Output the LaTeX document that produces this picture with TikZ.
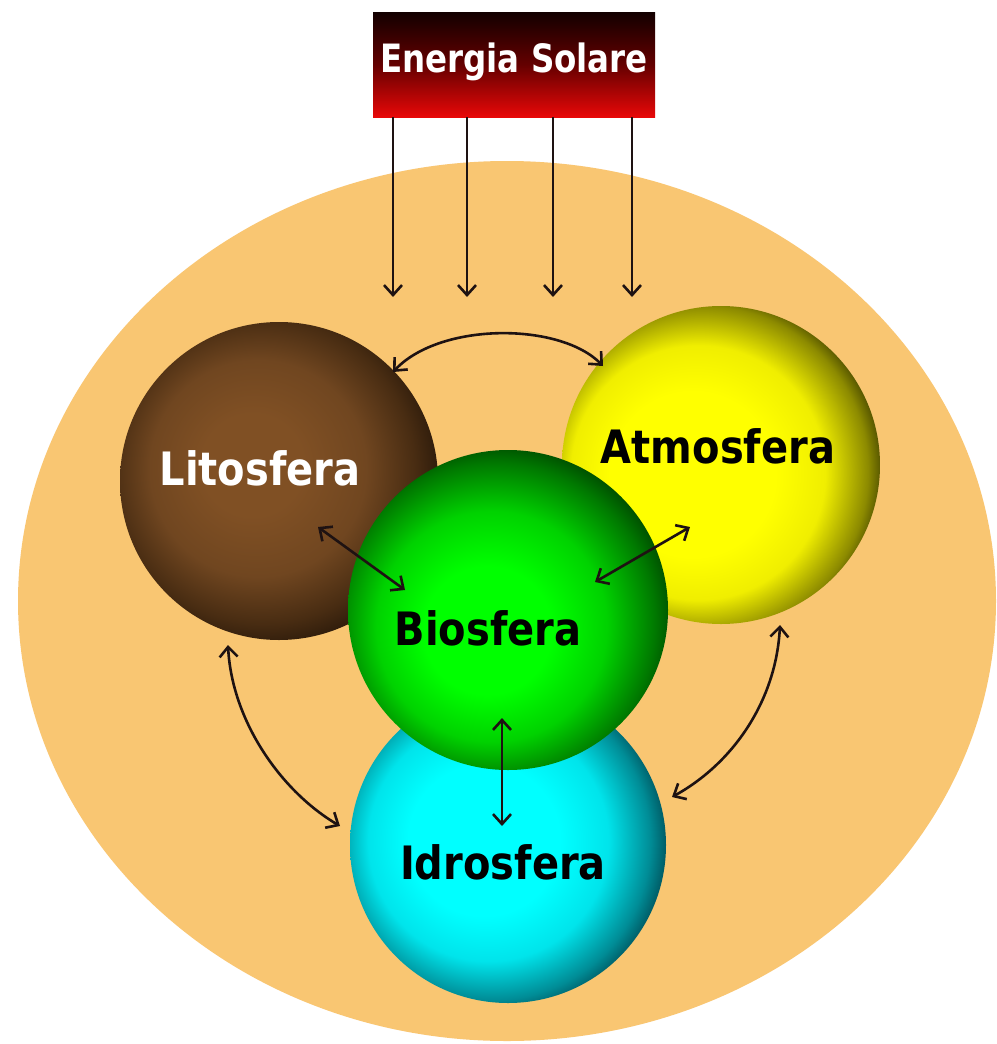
\documentclass[tikz,border=0pt]{standalone}
\usepackage{fontspec}
\setmainfont{DejaVu Sans}
\usetikzlibrary{arrows.meta,calc}
\definecolor{bgorange}{RGB}{249,198,114}
\definecolor{linec}{RGB}{30,18,18}
\definecolor{litoA}{RGB}{128,80,36}
\definecolor{litoB}{RGB}{112,70,32}
\definecolor{litoC}{RGB}{72,44,18}
\definecolor{litoD}{RGB}{28,16,6}
\definecolor{atmoA}{RGB}{255,255,0}
\definecolor{atmoB}{RGB}{240,238,0}
\definecolor{atmoC}{RGB}{140,138,0}
\definecolor{atmoD}{RGB}{25,25,0}
\definecolor{bioA}{RGB}{0,255,0}
\definecolor{bioB}{RGB}{0,210,0}
\definecolor{bioC}{RGB}{0,120,0}
\definecolor{bioD}{RGB}{0,28,0}
\definecolor{idroA}{RGB}{0,255,255}
\definecolor{idroB}{RGB}{0,228,235}
\definecolor{idroC}{RGB}{0,140,150}
\definecolor{idroD}{RGB}{0,36,46}
\definecolor{sunTop}{RGB}{18,0,0}
\definecolor{sunMid}{RGB}{100,0,0}
\definecolor{sunBot}{RGB}{232,8,8}
\pgfdeclareradialshading{litoS}{\pgfqpoint{-5bp}{3bp}}{color(0bp)=(litoA); color(8bp)=(litoA); color(17bp)=(litoB); color(24bp)=(litoC); color(30bp)=(litoD); color(50bp)=(litoD)}
\pgfdeclareradialshading{atmoS}{\pgfqpoint{-6bp}{-2bp}}{color(0bp)=(atmoA); color(13bp)=(atmoA); color(20bp)=(atmoB); color(26bp)=(atmoC); color(30bp)=(atmoD); color(50bp)=(atmoD)}
\pgfdeclareradialshading{bioS}{\pgfqpoint{-4bp}{-4bp}}{color(0bp)=(bioA); color(10bp)=(bioA); color(18bp)=(bioB); color(25bp)=(bioC); color(31bp)=(bioD); color(50bp)=(bioD)}
\pgfdeclareradialshading{idroS}{\pgfqpoint{-5bp}{1bp}}{color(0bp)=(idroA); color(12bp)=(idroA); color(19bp)=(idroB); color(25bp)=(idroC); color(30bp)=(idroD); color(50bp)=(idroD)}
\begin{document}
\begin{tikzpicture}[x=1pt,y=-1pt,
  sphere/.style={circle, draw=none, inner sep=0pt},
  lab/.style={font=\fontsize{40}{40}\selectfont\bfseries, inner sep=0pt},
  tipb/.tip={Straight Barb[length=10pt,width=18pt,line width=2.6pt]},
  link/.style={draw=linec, line width=2.6pt, tipb-tipb},
  ray/.style={draw=linec, line width=2.6pt, -tipb}]
\fill[white] (0,0) rectangle (996,1044);
\useasboundingbox (0,0) rectangle (996,1044);
% background ellipse
\fill[bgorange] (507,601) ellipse [x radius=489, y radius=440];
% sun box
\node[rectangle, inner sep=0pt, minimum width=282pt, minimum height=105pt,
      top color=sunTop, bottom color=sunBot, middle color=sunMid] (sun) at (514,64.5) {};
\node[font=\fontsize{32.5}{33}\selectfont\bfseries, text=white, inner sep=0pt] (sunT) at (514,62) {\scalebox{1}[1.2]{Energia Solare}};
% spheres
\node[sphere, minimum size=318pt, shading=litoS] (lito) at (279,481) {};
\node[sphere, minimum size=318pt, shading=atmoS] (atmo) at (721,465) {};
\node[sphere, minimum size=316pt, shading=idroS] (idro) at (508,845) {};
\node[sphere, minimum size=320pt, shading=bioS] (bio) at (508,610) {};
% labels
\node[lab, text=white] (litoT) at (260,468) {\scalebox{1}[1.15]{Litosfera}};
\node[lab, text=black] (atmoT) at (718,446) {\scalebox{1}[1.15]{Atmosfera}};
\node[lab, text=black] (bioT) at (488,628) {\scalebox{1}[1.15]{Biosfera}};
\node[lab, text=black] (idroT) at (503,862) {\scalebox{1}[1.15]{Idrosfera}};
% solar rays
\foreach \x/\n in {393/1,467/2,553/3,632/4}{
  \coordinate (r\n) at (\x,297);
  \draw[ray] (sun.south -| r\n) -- (r\n);
}
% connector end points
\coordinate (la) at (393,372);
\coordinate (al) at (603,366);
\coordinate (lb) at (318,527);
\coordinate (bl) at (405,590);
\coordinate (ab) at (690,527);
\coordinate (ba) at (595,582);
\coordinate (li) at (228,645);
\coordinate (il) at (340,826);
\coordinate (ai) at (780,625);
\coordinate (ia) at (672,797);
\coordinate (bi) at (502,718);
\coordinate (ib) at (502,826);
\draw[link] (la) .. controls (440,322) and (560,322) .. (al);
\draw[link] (lb) -- (bl);
\draw[link] (ab) -- (ba);
\draw[link] (li) .. controls (232,722) and (282,792) .. (il);
\draw[link] (ai) .. controls (776,702) and (732,764) .. (ia);
\draw[link] (bi) -- (ib);
\end{tikzpicture}
\end{document}
